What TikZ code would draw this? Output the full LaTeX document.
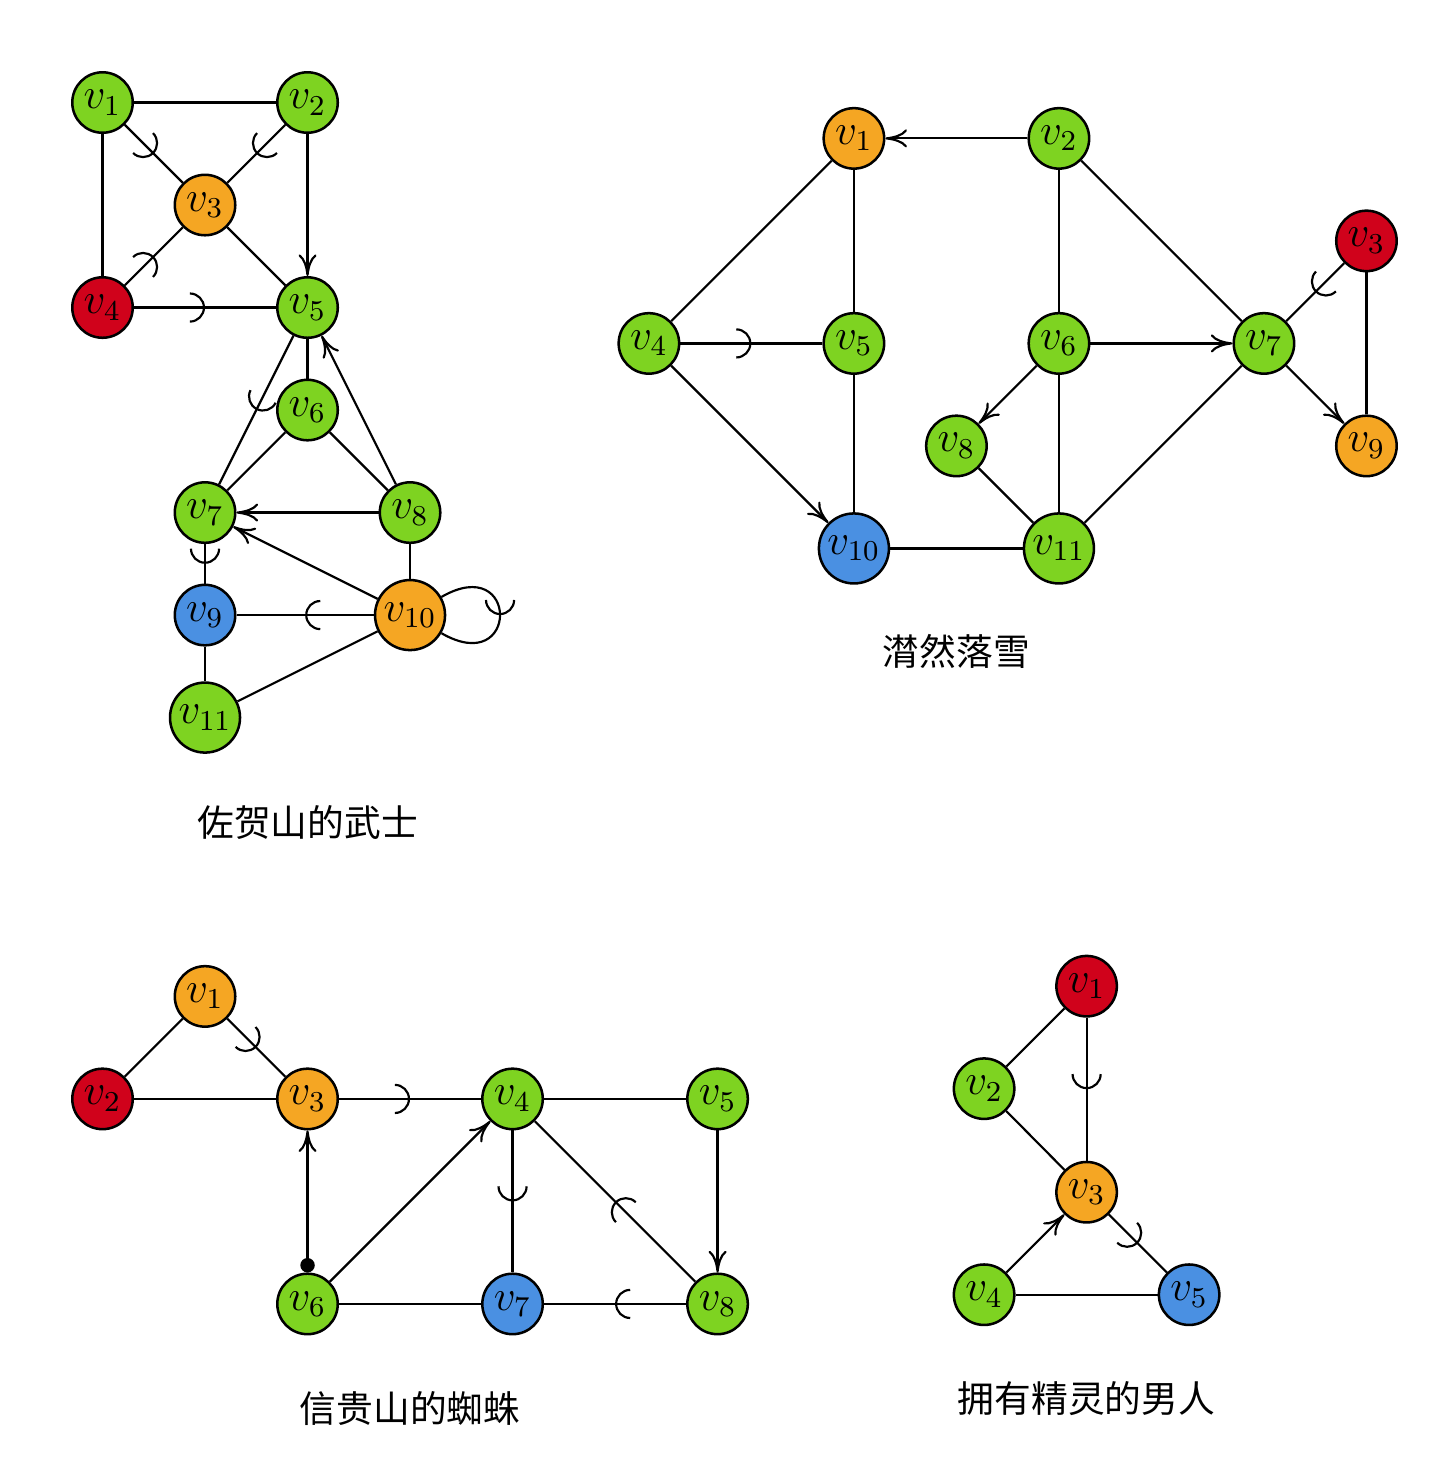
\documentclass[tikz,border=0pt]{standalone}
\usepackage{fontspec}
\newfontfamily\cjk{Noto Sans CJK SC}
\usetikzlibrary{arrows.meta,decorations.markings}
\definecolor{vgreen}{HTML}{7ED321}
\definecolor{vorange}{HTML}{F5A623}
\definecolor{vred}{HTML}{D0021B}
\definecolor{vblue}{HTML}{4A90E2}
\tikzset{
  vert/.style={circle, draw=black, line width=0.7pt, minimum size=0.59cm, inner sep=1.2pt, font=\fontsize{11.5}{13}\selectfont},
  gv/.style={vert, fill=vgreen},
  ov/.style={vert, fill=vorange},
  rv/.style={vert, fill=vred},
  bv/.style={vert, fill=vblue},
  link/.style={line width=0.6pt},
  arr/.style={link, -{Computer Modern Rightarrow[length=6pt,width=5pt]}},
  dotarr/.style={link, {Circle[length=4pt]}-{Computer Modern Rightarrow[length=6pt,width=5pt]}},
  half/.style={link, postaction={decorate}, decoration={markings, mark=at position 0.5 with {\arrow{Arc Barb[length=4.2pt]}}}},
  gname/.style={font=\cjk\fontsize{10.2}{12}\selectfont}
}
\begin{document}
\begin{tikzpicture}
  \useasboundingbox (0,0) rectangle (14.05,-14.34);

  \node[gv] (a1) at (1,-1) {$v_{1}$};
  \node[gv] (a2) at (3,-1) {$v_{2}$};
  \node[ov] (a3) at (2,-2) {$v_{3}$};
  \node[rv] (a4) at (1,-3) {$v_{4}$};
  \node[gv] (a5) at (3,-3) {$v_{5}$};
  \node[gv] (a6) at (3,-4) {$v_{6}$};
  \node[gv] (a7) at (2,-5) {$v_{7}$};
  \node[gv] (a8) at (4,-5) {$v_{8}$};
  \node[bv] (a9) at (2,-6) {$v_{9}$};
  \node[ov] (a10) at (4,-6) {$v_{10}$};
  \node[gv] (a11) at (2,-7) {$v_{11}$};
  \node[gname] (nameA) at (3,-8.02) {佐贺山的武士};

  \draw[link] (a1) -- (a2);
  \draw[link] (a1) -- (a4);
  \draw[half] (a1) -- (a3);
  \draw[half] (a2) -- (a3);
  \draw[arr] (a2) -- (a5);
  \draw[half] (a4) -- (a3);
  \draw[link] (a3) -- (a5);
  \draw[half] (a4) -- (a5);
  \draw[link] (a5) -- (a6);
  \draw[half] (a5) -- (a7);
  \draw[link] (a6) -- (a7);
  \draw[link] (a6) -- (a8);
  \draw[arr] (a8) -- (a5);
  \draw[arr] (a8) -- (a7);
  \draw[arr] (a10) -- (a7);
  \draw[link] (a8) -- (a10);
  \draw[half] (a7) -- (a9);
  \draw[half] (a10) -- (a9);
  \draw[link] (a9) -- (a11);
  \draw[link] (a10) -- (a11);
  \draw[half] (a10) to[loop, out=30, in=-30, min distance=0.88cm] (a10);

  \node[ov] (b1) at (8.33,-1.35) {$v_{1}$};
  \node[gv] (b2) at (10.33,-1.35) {$v_{2}$};
  \node[rv] (b3) at (13.33,-2.35) {$v_{3}$};
  \node[gv] (b4) at (6.33,-3.35) {$v_{4}$};
  \node[gv] (b5) at (8.33,-3.35) {$v_{5}$};
  \node[gv] (b6) at (10.33,-3.35) {$v_{6}$};
  \node[gv] (b7) at (12.33,-3.35) {$v_{7}$};
  \node[gv] (b8) at (9.33,-4.35) {$v_{8}$};
  \node[ov] (b9) at (13.33,-4.35) {$v_{9}$};
  \node[bv] (b10) at (8.33,-5.35) {$v_{10}$};
  \node[gv] (b11) at (10.33,-5.35) {$v_{11}$};
  \node[gname] (nameB) at (9.33,-6.35) {潸然落雪};

  \draw[arr] (b2) -- (b1);
  \draw[link] (b1) -- (b4);
  \draw[link] (b1) -- (b5);
  \draw[link] (b2) -- (b6);
  \draw[link] (b2) -- (b7);
  \draw[half] (b3) -- (b7);
  \draw[link] (b3) -- (b9);
  \draw[half] (b4) -- (b5);
  \draw[arr] (b4) -- (b10);
  \draw[link] (b5) -- (b10);
  \draw[arr] (b6) -- (b7);
  \draw[arr] (b6) -- (b8);
  \draw[link] (b6) -- (b11);
  \draw[arr] (b7) -- (b9);
  \draw[link] (b7) -- (b11);
  \draw[link] (b8) -- (b11);
  \draw[link] (b10) -- (b11);

  \node[ov] (c1) at (2,-9.72) {$v_{1}$};
  \node[rv] (c2) at (1,-10.72) {$v_{2}$};
  \node[ov] (c3) at (3,-10.72) {$v_{3}$};
  \node[gv] (c4) at (5,-10.72) {$v_{4}$};
  \node[gv] (c5) at (7,-10.72) {$v_{5}$};
  \node[gv] (c6) at (3,-12.72) {$v_{6}$};
  \node[bv] (c7) at (5,-12.72) {$v_{7}$};
  \node[gv] (c8) at (7,-12.72) {$v_{8}$};
  \node[gname] (nameC) at (4,-13.74) {信贵山的蜘蛛};

  \draw[link] (c1) -- (c2);
  \draw[half] (c1) -- (c3);
  \draw[link] (c2) -- (c3);
  \draw[half] (c3) -- (c4);
  \draw[dotarr] (c6) -- (c3);
  \draw[arr] (c6) -- (c4);
  \draw[half] (c4) -- (c7);
  \draw[link] (c4) -- (c5);
  \draw[arr] (c5) -- (c8);
  \draw[half] (c8) -- (c4);
  \draw[link] (c6) -- (c7);
  \draw[half] (c8) -- (c7);

  \node[rv] (d1) at (10.6,-9.62) {$v_{1}$};
  \node[gv] (d2) at (9.6,-10.62) {$v_{2}$};
  \node[ov] (d3) at (10.6,-11.63) {$v_{3}$};
  \node[gv] (d4) at (9.6,-12.63) {$v_{4}$};
  \node[bv] (d5) at (11.6,-12.63) {$v_{5}$};
  \node[gname] (nameD) at (10.6,-13.64) {拥有精灵的男人};

  \draw[link] (d1) -- (d2);
  \draw[half] (d1) -- (d3);
  \draw[link] (d2) -- (d3);
  \draw[arr] (d4) -- (d3);
  \draw[half] (d3) -- (d5);
  \draw[link] (d4) -- (d5);
\end{tikzpicture}
\end{document}
